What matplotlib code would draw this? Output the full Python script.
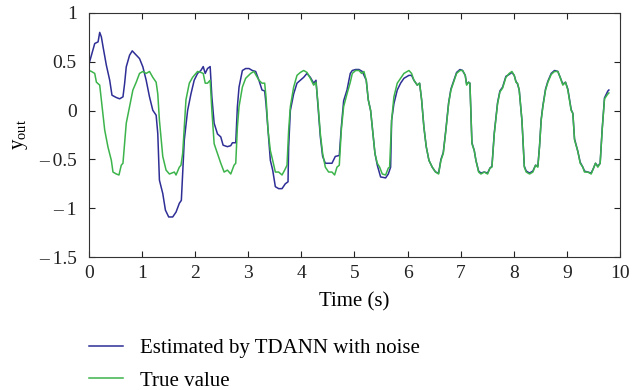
import matplotlib
matplotlib.use("Agg")
import matplotlib.pyplot as plt

plt.rcParams['font.family'] = ['Liberation Serif', 'DejaVu Serif']
plt.rcParams['mathtext.fontset'] = 'custom'
plt.rcParams['mathtext.rm'] = 'Liberation Serif'
plt.rcParams['mathtext.it'] = 'Liberation Serif:italic'

t_true = [0, 0.044, 0.106, 0.138, 0.20, 0.231, 0.294, 0.356, 0.419, 0.45, 0.513, 0.563, 0.606, 0.638,
          0.669, 0.70, 0.763, 0.825, 0.888, 0.95, 1.013, 1.075, 1.138, 1.20, 1.263, 1.294, 1.325, 1.388,
          1.45, 1.513, 1.606, 1.638, 1.70, 1.731, 1.763, 1.794, 1.825, 1.888, 1.95, 2.044, 2.106, 2.15,
          2.188, 2.231, 2.281, 2.313, 2.356, 2.419, 2.481, 2.544, 2.606, 2.669, 2.731, 2.763, 2.794,
          2.825, 2.888, 2.95, 3.044, 3.106, 3.20, 3.258, 3.308, 3.333, 3.371, 3.415, 3.459, 3.509,
          3.572, 3.635, 3.685, 3.729, 3.760, 3.792, 3.854, 3.917, 3.980, 4.043, 4.105, 4.168, 4.231,
          4.275, 4.313, 4.357, 4.400, 4.451, 4.513, 4.576, 4.626, 4.670, 4.714, 4.752, 4.796, 4.859,
          4.921, 4.959, 5.022, 5.084, 5.135, 5.178, 5.222, 5.260, 5.304, 5.348, 5.386, 5.430, 5.474,
          5.524, 5.587, 5.637, 5.662, 5.700, 5.743, 5.806, 5.869, 5.932, 6.026, 6.076, 6.120, 6.183,
          6.227, 6.265, 6.308, 6.352, 6.403, 6.465, 6.528, 6.585, 6.629, 6.673, 6.723, 6.774, 6.817,
          6.880, 6.924, 6.987, 7.037, 7.087, 7.113, 7.150, 7.175, 7.213, 7.257, 7.288, 7.339, 7.382,
          7.445, 7.508, 7.552, 7.590, 7.634, 7.696, 7.740, 7.791, 7.853, 7.916, 7.966, 8.010, 8.042,
          8.073, 8.104, 8.155, 8.175, 8.20, 8.236, 8.299, 8.361, 8.412, 8.455, 8.487, 8.518, 8.550,
          8.600, 8.644, 8.707, 8.769, 8.832, 8.876, 8.926, 8.976, 9.020, 9.083, 9.115, 9.146, 9.209,
          9.253, 9.303, 9.334, 9.397, 9.460, 9.504, 9.541, 9.585, 9.629, 9.667, 9.711, 9.774, 9.793]
v_true = [0.41, 0.40, 0.38, 0.29, 0.26, 0.105, -0.20, -0.375, -0.51, -0.63, -0.65, -0.66, -0.56, -0.54,
          -0.34, -0.13, 0.04, 0.21, 0.29, 0.38, 0.40, 0.38, 0.40, 0.34, 0.29, 0.17, -0.10, -0.47,
          -0.61, -0.65, -0.63, -0.66, -0.58, -0.56, -0.44, -0.17, 0.11, 0.28, 0.34, 0.40, 0.39, 0.38,
          0.28, 0.28, 0.31, 0.0, -0.34, -0.44, -0.54, -0.63, -0.61, -0.65, -0.56, -0.54, -0.17,
          0.04, 0.24, 0.33, 0.38, 0.40, 0.31, 0.28, 0.28, 0.14, -0.20, -0.41, -0.51, -0.63,
          -0.63, -0.66, -0.61, -0.56, -0.20, 0.04, 0.24, 0.36, 0.39, 0.41, 0.39, 0.33, 0.26,
          0.29, 0.07, -0.24, -0.44, -0.58, -0.63, -0.63, -0.66, -0.58, -0.56, -0.20, 0.04, 0.17,
          0.29, 0.38, 0.41, 0.41, 0.38, 0.40, 0.31, 0.11, 0.0, -0.24, -0.44, -0.54, -0.58,
          -0.65, -0.66, -0.59, -0.58, -0.10, 0.14, 0.28, 0.33, 0.38, 0.41, 0.38, 0.31, 0.26,
          0.28, 0.11, -0.17, -0.37, -0.51, -0.58, -0.63, -0.65, -0.51, -0.44, -0.20, 0.07, 0.21,
          0.31, 0.38, 0.41, 0.41, 0.36, 0.26, 0.29, 0.28, -0.34, -0.41, -0.51, -0.63, -0.65,
          -0.63, -0.65, -0.59, -0.58, -0.24, 0.07, 0.19, 0.23, 0.34, 0.38, 0.40, 0.36, 0.29,
          0.28, 0.21, -0.10, -0.30, -0.58, -0.63, -0.65, -0.63, -0.56, -0.58, -0.37, -0.10, 0.04,
          0.21, 0.29, 0.37, 0.40, 0.40, 0.34, 0.26, 0.29, 0.21, 0.0, -0.03, -0.30, -0.42,
          -0.54, -0.58, -0.63, -0.63, -0.65, -0.59, -0.54, -0.58, -0.54, -0.20, 0.12, 0.17, 0.18]

t_est = [0.01, 0.106, 0.169, 0.20, 0.231, 0.263, 0.325, 0.388, 0.431, 0.513, 0.575, 0.638, 0.669,
         0.70, 0.763, 0.813, 0.888, 0.95, 1.013, 1.075, 1.138, 1.20, 1.263, 1.294, 1.325, 1.388,
         1.438, 1.50, 1.575, 1.638, 1.70, 1.738, 1.763, 1.794, 1.856, 1.919, 1.98, 2.044, 2.106,
         2.15, 2.188, 2.231, 2.281, 2.313, 2.356, 2.419, 2.481, 2.525, 2.606, 2.669, 2.70, 2.763,
         2.794, 2.825, 2.888, 2.95, 3.013, 3.075, 3.138, 3.20, 3.258, 3.308, 3.333, 3.384, 3.415,
         3.459, 3.509, 3.572, 3.635, 3.697, 3.748, 3.760, 3.792, 3.854, 3.917, 3.980, 4.043, 4.105,
         4.168, 4.231, 4.275, 4.313, 4.357, 4.400, 4.451, 4.513, 4.576, 4.639, 4.714, 4.752, 4.796,
         4.859, 4.921, 4.959, 5.022, 5.084, 5.147, 5.222, 5.260, 5.304, 5.348, 5.386, 5.430, 5.492,
         5.587, 5.637, 5.681, 5.700, 5.743, 5.806, 5.869, 5.932, 6.026, 6.076, 6.120, 6.183, 6.227,
         6.265, 6.308, 6.352, 6.403, 6.465, 6.528, 6.585, 6.629, 6.673, 6.723, 6.774, 6.817, 6.880,
         6.924, 6.987, 7.037, 7.087, 7.113, 7.150, 7.175, 7.213, 7.257, 7.288, 7.339, 7.382, 7.445,
         7.508, 7.552, 7.590, 7.634, 7.696, 7.740, 7.791, 7.853, 7.916, 7.966, 8.010, 8.042, 8.073,
         8.104, 8.155, 8.175, 8.20, 8.236, 8.299, 8.361, 8.412, 8.455, 8.487, 8.518, 8.550, 8.600,
         8.644, 8.707, 8.769, 8.832, 8.876, 8.926, 8.976, 9.020, 9.083, 9.115, 9.146, 9.209, 9.253,
         9.303, 9.334, 9.397, 9.460, 9.504, 9.541, 9.585, 9.629, 9.667, 9.711, 9.774, 9.793]
v_est = [0.50, 0.686, 0.703, 0.80, 0.754, 0.652, 0.464, 0.311, 0.157, 0.133, 0.12, 0.14, 0.276,
         0.447, 0.567, 0.611, 0.567, 0.532, 0.447, 0.311, 0.14, 0.003, -0.048, -0.235, -0.713, -0.85,
         -1.02, -1.09, -1.09, -1.04, -0.95, -0.92, -0.65, -0.30, 0.0, 0.17, 0.31, 0.38, 0.41,
         0.45, 0.38, 0.43, 0.45, 0.14, -0.13, -0.24, -0.27, -0.355, -0.37, -0.36, -0.33, -0.33,
         0.04, 0.24, 0.41, 0.43, 0.43, 0.41, 0.40, 0.31, 0.21, 0.20, 0.07, -0.30, -0.51,
         -0.61, -0.78, -0.80, -0.80, -0.75, -0.73, -0.37, 0.0, 0.17, 0.28, 0.31, 0.34, 0.38,
         0.34, 0.28, 0.31, 0.04, -0.27, -0.47, -0.54, -0.54, -0.54, -0.47, -0.46, -0.17, 0.10,
         0.21, 0.38, 0.41, 0.42, 0.42, 0.40, 0.31, 0.11, 0.0, -0.24, -0.44, -0.56, -0.68,
         -0.69, -0.65, -0.58, -0.10, 0.07, 0.21, 0.28, 0.33, 0.36, 0.36, 0.31, 0.26, 0.28,
         0.11, -0.17, -0.37, -0.51, -0.58, -0.63, -0.64, -0.50, -0.43, -0.19, 0.08, 0.22, 0.32,
         0.39, 0.42, 0.41, 0.36, 0.27, 0.29, 0.28, -0.33, -0.41, -0.51, -0.62, -0.64, -0.63,
         -0.64, -0.59, -0.57, -0.23, 0.08, 0.20, 0.24, 0.35, 0.37, 0.39, 0.36, 0.30, 0.27,
         0.21, -0.10, -0.30, -0.57, -0.62, -0.64, -0.62, -0.56, -0.57, -0.36, -0.09, 0.05, 0.22,
         0.30, 0.38, 0.41, 0.40, 0.34, 0.27, 0.29, 0.22, 0.01, -0.03, -0.29, -0.42, -0.53,
         -0.58, -0.62, -0.63, -0.64, -0.59, -0.54, -0.57, -0.54, -0.19, 0.13, 0.20, 0.21]

x_ticks = [0, 1, 2, 3, 4, 5, 6, 7, 8, 9, 10]
y_ticks = [-1.5, -1, -0.5, 0, 0.5, 1]
y_tick_labels = ['\u2013\u20091.5', '\u2013\u20091', '\u2013\u20090.5', '0', '0.5', '1']

fig = plt.figure(figsize=(6.41, 3.90), dpi=100)
ax = fig.add_axes([0.139, 0.341, 0.828, 0.626])

ax.plot(t_est, v_est, color='#2e2e96', lw=1.1, label='Estimated by TDANN with noise')
ax.plot(t_true, v_true, color='#3cb44b', lw=1.1, label='True value')

ax.set_xlim(0, 10)
ax.set_ylim(-1.5, 1)
ax.set_xticks(x_ticks)
ax.set_xticklabels([str(v) for v in x_ticks])
ax.set_yticks(y_ticks)
ax.set_yticklabels(y_tick_labels)
ax.tick_params(direction='in', top=True, right=True, length=4, width=0.8,
               labelsize=14, pad=6, colors='#222222')
ax.tick_params(axis='y', pad=9)
for s in ax.spines.values():
    s.set_linewidth(0.8)
    s.set_color('#333333')

ax.set_xlabel('Time (s)', fontsize=15, labelpad=7)
ax.set_ylabel(r'y$_{\mathrm{out}}$', fontsize=15, labelpad=6)

h, l = ax.get_legend_handles_labels()
fig.legend(h, l, loc='upper left', bbox_to_anchor=(0.126, 0.153), frameon=False,
           fontsize=15, handlelength=1.63, handletextpad=0.82, labelspacing=0.62, borderaxespad=0)

fig.savefig('out.png', dpi=100)
